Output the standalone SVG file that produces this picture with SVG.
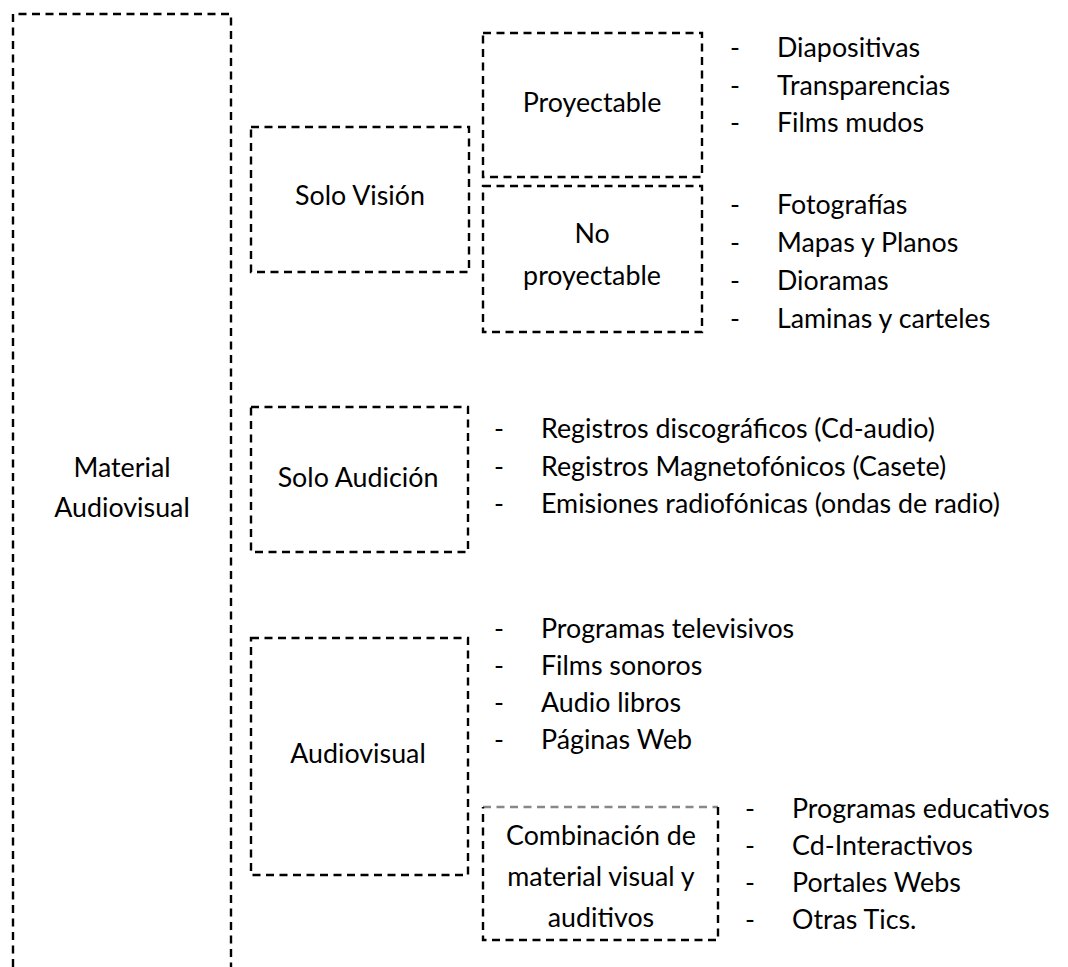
<svg xmlns="http://www.w3.org/2000/svg" width="1068" height="967" viewBox="0 0 1068 967">
<style>
.b{fill:none;stroke:#000;stroke-width:2.4;stroke-dasharray:8 5.5}
.g{fill:none;stroke:#888;stroke-width:2.4;stroke-dasharray:8 5.5}
text{font-family:Lato,"Open Sans","Liberation Sans",sans-serif;font-size:26.8px;fill:#000}
.c{text-anchor:middle}
</style>
<rect width="1068" height="967" fill="#fff"/>
<g id="material">
<path class="b" d="M13 967 V14 H231 V967"/>
<text class="c" x="122" y="477">Material</text>
<text class="c" x="122" y="517">Audiovisual</text>
</g>
<g id="solo-vision">
<rect class="b" x="251" y="127" width="218" height="145"/>
<text class="c" x="360" y="205">Solo Visión</text>
</g>
<g id="proyectable">
<rect class="b" x="483" y="33" width="219" height="144"/>
<text class="c" x="592" y="112">Proyectable</text>
</g>
<g id="no-proyectable">
<rect class="b" x="483" y="186" width="219" height="146"/>
<text class="c" x="592" y="243">No</text>
<text class="c" x="592" y="285">proyectable</text>
</g>
<g id="list-proyectable">
<text x="730" y="57">-</text><text x="777" y="57">Diapositivas</text>
<text x="730" y="95">-</text><text x="777" y="95">Transparencias</text>
<text x="730" y="132">-</text><text x="777" y="132">Films mudos</text>
</g>
<g id="list-no-proyectable">
<text x="730" y="214">-</text><text x="777" y="214">Fotografías</text>
<text x="730" y="252">-</text><text x="777" y="252">Mapas y Planos</text>
<text x="730" y="290">-</text><text x="777" y="290">Dioramas</text>
<text x="730" y="328">-</text><text x="777" y="328">Laminas y carteles</text>
</g>
<g id="solo-audicion">
<rect class="b" x="251" y="407" width="217" height="145"/>
<text class="c" x="358" y="487">Solo Audición</text>
</g>
<g id="list-audicion">
<text x="494" y="438">-</text><text x="541" y="438">Registros discográficos (Cd-audio)</text>
<text x="494" y="476">-</text><text x="541" y="476">Registros Magnetofónicos (Casete)</text>
<text x="494" y="513">-</text><text x="541" y="513">Emisiones radiofónicas (ondas de radio)</text>
</g>
<g id="audiovisual">
<rect class="b" x="251" y="638" width="217" height="237"/>
<text class="c" x="358" y="763">Audiovisual</text>
</g>
<g id="list-audiovisual">
<text x="494" y="638">-</text><text x="541" y="638">Programas televisivos</text>
<text x="494" y="675">-</text><text x="541" y="675">Films sonoros</text>
<text x="494" y="712">-</text><text x="541" y="712">Audio libros</text>
<text x="494" y="749">-</text><text x="541" y="749">Páginas Web</text>
</g>
<g id="combinacion">
<path class="g" d="M483 807 H718"/>
<path class="b" d="M718 807 V940 H483 V807"/>
<text class="c" x="601" y="845">Combinación de</text>
<text class="c" x="601" y="886">material visual y</text>
<text class="c" x="601" y="927">auditivos</text>
</g>
<g id="list-combinacion">
<text x="745" y="818">-</text><text x="792" y="818">Programas educativos</text>
<text x="745" y="855">-</text><text x="792" y="855">Cd-Interactivos</text>
<text x="745" y="892">-</text><text x="792" y="892">Portales Webs</text>
<text x="745" y="929">-</text><text x="792" y="929">Otras Tics.</text>
</g>
<g id="connectors"></g>
</svg>
